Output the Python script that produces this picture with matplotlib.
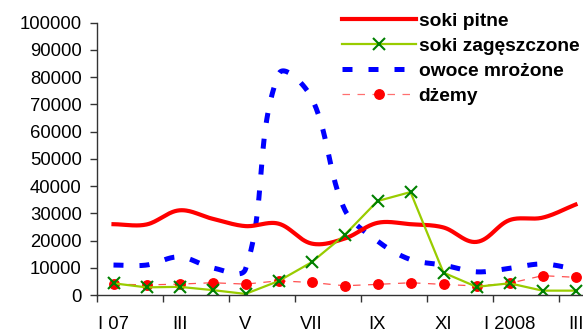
import numpy as np
import matplotlib.pyplot as plt
from matplotlib.lines import Line2D

plt.rcParams['font.family'] = ['Liberation Sans', 'DejaVu Sans']

months = ['I 07', 'II', 'III', 'IV', 'V', 'VI', 'VII', 'VIII', 'IX', 'X',
          'XI', 'XII', 'I 2008', 'II', 'III']
soki_pitne = [26000, 25900, 31100, 28000, 25300, 26200, 18900, 20700,
              26500, 26000, 24800, 19500, 27500, 28400, 33200]
soki_zag = [4300, 2800, 3000, 1800, 400, 5100, 12000, 22000,
            34500, 37800, 8200, 3000, 4300, 1600, 1600]
owoce = [11000, 11000, 14000, 10000, 9500, 81000, 72500, 31500,
         19800, 13000, 11000, 8500, 9800, 11400, 9500]
dzemy = [4000, 3700, 4000, 4500, 4000, 5200, 4600, 3400,
         3900, 4500, 3900, 3300, 4300, 7100, 6500]

# pixel scale, used only so that the smoothing behaves like Excel on screen
PX_X = 33.0
PX_Y = 272.3 / 100000


def smooth(y, n=30, s=1/3.):
    # bezier through the points, control arms proportional to segment length
    P = np.column_stack([np.arange(len(y)) * PX_X, np.asarray(y, float) * PX_Y])
    m = len(P)
    d = np.hypot(*(P[1:] - P[:-1]).T)
    u = np.zeros_like(P)
    for i in range(m):
        a = P[max(i-1, 0)]
        b = P[min(i+1, m-1)]
        t = b - a
        u[i] = t / np.hypot(*t)
    t = np.linspace(0, 1, n, endpoint=False)[:, None]
    out = []
    for i in range(m-1):
        p0 = P[i]
        p3 = P[i+1]
        p1 = p0 + u[i] * d[i] * s
        p2 = p3 - u[i+1] * d[i] * s
        out.append((1-t)**3*p0 + 3*(1-t)**2*t*p1 + 3*(1-t)*t**2*p2 + t**3*p3)
    out.append(P[-1:])
    out = np.vstack(out)
    return out[:, 0] / PX_X, out[:, 1] / PX_Y


fig = plt.figure(figsize=(5.83, 3.33), dpi=100)
ax = fig.add_axes([97/583, 38/333, 495/583, 272.3/333])
x = np.arange(len(months))

sx, sy = smooth(soki_pitne)
ax.plot(sx, sy, color='#FF0000', lw=3.0, zorder=3)
bx, by = smooth(owoce)
ax.plot(bx, by, color='#0000FF', lw=3.6, dashes=(2.0, 3.2), zorder=2)
ax.plot(x, dzemy, color='#FF5050', lw=0.9, dashes=(6, 6), zorder=4)
ax.plot(x, dzemy, ls='none', marker='o', markersize=6.8,
        markerfacecolor='#FF0000', markeredgecolor='#FF0000', zorder=4)
ax.plot(x, soki_zag, color='#99CC00', lw=1.6, marker='x', markersize=8,
        markeredgecolor='#008000', markeredgewidth=1.5, zorder=5)

ax.set_xlim(-0.5, len(months)-0.5)
ax.set_ylim(0, 100000)
ax.set_yticks(np.arange(0, 100001, 10000))
ax.set_xticks(np.arange(-0.5, len(months), 2))
ax.set_xticklabels([])
ax.set_xticks(x[::2], minor=True)
ax.set_xticklabels(months[::2], minor=True)
ax.tick_params(axis='x', which='minor', length=0, pad=15, labelsize=13.3)
ax.tick_params(axis='x', which='major', length=5, width=1, color='#333333')
ax.tick_params(axis='y', length=5, width=1, pad=6, labelsize=13.3, color='#333333')
for s in ['top', 'right']:
    ax.spines[s].set_visible(False)
for s in ['left', 'bottom']:
    ax.spines[s].set_color('#333333')
    ax.spines[s].set_linewidth(1)
ax.spines['bottom'].set_zorder(6)

handles = [
    Line2D([], [], color='#FF0000', lw=3.0),
    Line2D([], [], color='#99CC00', lw=1.6, marker='x', markersize=8,
           markeredgecolor='#008000', markeredgewidth=1.5),
    Line2D([], [], color='#0000FF', lw=3.6, dashes=(2.0, 3.2)),
    Line2D([], [], color='#FF7070', lw=0.9, dashes=(6, 6), marker='o',
           markersize=6.8, markerfacecolor='#FF0000', markeredgecolor='#FF0000'),
]
labels = ['soki pitne', 'soki zagęszczone', 'owoce mrożone', 'dżemy']
fig.legend(handles, labels, loc='upper left', bbox_to_anchor=(342/583, 1-12.5/333),
           frameon=False, borderpad=0, borderaxespad=0, handlelength=3.85,
           handletextpad=0.15, labelspacing=0.39, prop={'weight': 'bold', 'size': 13.8})

fig.savefig('out.png', dpi=100)
